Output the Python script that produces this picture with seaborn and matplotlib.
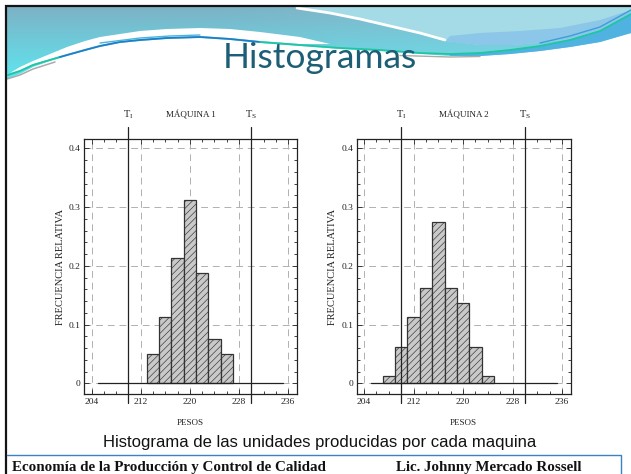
import matplotlib
matplotlib.use("Agg")
import matplotlib.pyplot as plt
from matplotlib.patches import Polygon
from matplotlib.ticker import FixedLocator, MultipleLocator
import numpy as np
import seaborn as sns

# frecuencias relativas (n = 80 unidades por maquina)
pesos_m1 = [214, 216, 218, 220, 222, 224, 226]
frec_m1 = [0.05, 0.1125, 0.2125, 0.3125, 0.1875, 0.075, 0.05]
pesos_m2 = [208, 210, 212, 214, 216, 218, 220, 222, 224]
frec_m2 = [0.0125, 0.0625, 0.1125, 0.1625, 0.275, 0.1625, 0.1375, 0.0625, 0.0125]

limites = [210, 230]
etiq_limites = [r'T$_\mathregular{I}$', r'T$_\mathregular{S}$']
maquinas = ['MÁQUINA 1', 'MÁQUINA 2']
x_ticks = [204, 212, 220, 228, 236]
y_ticks = [0, 0.1, 0.2, 0.3, 0.4]
y_labels = ['0', '0.1', '0.2', '0.3', '0.4']

sns.set_style("white")
plt.rcParams['font.family'] = ['Liberation Serif', 'DejaVu Serif']
plt.rcParams['hatch.linewidth'] = 0.45

W, H = 631, 474
fig = plt.figure(figsize=(W / 100, H / 100), dpi=100)

# ---- fondo de la diapositiva (coordenadas en pixeles) ----
bg = fig.add_axes([0, 0, 1, 1], zorder=0)
bg.set_xlim(0, W)
bg.set_ylim(H, 0)
bg.axis('off')


def poly(pts, **kw):
    p = Polygon(pts, closed=True, **kw)
    bg.add_patch(p)
    return p


lb = [(7, 79), (20, 74), (33, 67), (50, 61), (67, 56), (85, 51), (100, 47), (120, 43),
      (140, 41), (167, 39), (200, 38), (230, 40), (260, 43), (300, 46), (340, 49),
      (380, 51), (420, 54), (450, 56), (480, 56), (510, 54), (540, 51), (570, 47),
      (600, 42), (631, 33)]
cabecera = poly([(7, 7), (631, 7)] + lb[::-1], facecolor='none', edgecolor='none')

# degradado de la cabecera
ny, nx = 80, 320
t = np.linspace(0, 1, ny)[:, None]
xs = np.linspace(0, 1, nx)[None, :]
c0 = np.array(matplotlib.colors.to_rgb('#7db2c6'))
c1 = np.array(matplotlib.colors.to_rgb('#5ee6ef'))
img = (1 - t)[..., None] * c0 + t[..., None] * c1
img = img * np.ones((1, nx, 1))
wr = np.clip((xs - 0.35) / 0.5, 0, 1)[..., None] * 0.35
img = img * (1 - wr) + wr * np.array(matplotlib.colors.to_rgb('#8fd3e2'))
im = bg.imshow(img, extent=(7, 631, 80, 7), aspect='auto', zorder=1, interpolation='bilinear')
im.set_clip_path(cabecera)

# zona superior derecha (cian claro) y cuenco azul
poly([(297, 7), (631, 7), (631, 16), (600, 30), (570, 39), (540, 43), (510, 45), (480, 45),
      (445, 41), (420, 34), (390, 26), (360, 19), (330, 13)],
     facecolor='#a4dbe6', edgecolor='none', zorder=2)
poly([(445, 41), (480, 45), (510, 45), (540, 43), (570, 39), (600, 30), (631, 16),
      (631, 10), (600, 20), (560, 28), (520, 31), (480, 33), (450, 36)],
     facecolor='#8cc7e9', edgecolor='none', zorder=2)
# banda azul bajo la linea derecha
tl = [(450, 54), (480, 53), (510, 50), (540, 46), (570, 40), (600, 31), (631, 14)]
poly(tl + [(631, 33), (600, 42), (570, 47), (540, 51), (510, 54), (480, 56), (450, 56)],
     facecolor='#4fb2e0', edgecolor='none', zorder=2)
# cuna blanca
poly([(10, 73), (20, 67), (33, 61), (50, 54), (67, 47), (85, 41), (100, 37), (120, 34),
      (140, 31), (167, 29), (200, 28), (230, 29), (260, 32), (300, 37), (330, 44),
      (300, 44), (260, 41), (230, 38), (200, 36), (167, 37), (140, 39), (120, 41),
      (100, 45), (85, 49), (67, 54), (50, 59), (33, 64), (20, 70)],
     facecolor='white', edgecolor='none', zorder=2)
# franja blanca
bg.plot([297, 330, 360, 390, 420, 445], [8, 13, 19, 26, 33, 40], color='white', lw=2, zorder=3)
# lineas finas
bg.plot([7, 20, 33, 55], [79, 75, 69, 62], color='#aaaaaa', lw=1.1, zorder=3)
bg.plot([400, 450, 480], [55.5, 57, 56.5], color='#aaaaaa', lw=1.0, zorder=3)
bg.plot([8, 20, 33, 60], [75, 71, 65, 57], color='#1ec6a2', lw=1.3, zorder=4)
bg.plot([60, 85, 100, 120, 140, 167, 200, 230, 260], [57, 50, 46, 42, 40, 38, 37, 39, 42],
        color='#1e7fc8', lw=1.3, zorder=4)
bg.plot([100, 140, 170, 200], [43, 38, 36, 35], color='#4ab4dc', lw=1.0, zorder=4)
bg.plot([260, 300, 340, 380, 420, 450, 480, 510, 540, 570, 600, 631],
        [42, 45, 48, 50, 53, 54, 53, 50, 46, 40, 31, 14], color='#1ec6a2', lw=1.3, zorder=4)
bg.plot([540, 570, 600, 631], [43, 36, 27, 10], color='#3a9ed8', lw=1.0, zorder=4)

# bordes de la diapositiva
bg.plot([6, 6, 631], [474, 6, 6], color='#141414', lw=1.6, zorder=5, solid_joinstyle='miter')
bg.plot([7, 621, 621], [455, 455, 474], color='#3c83c6', lw=1.0, zorder=5)

bg.text(320, 68, 'Histogramas', family='Lato', fontsize=25.5, color='#1d5e77',
        ha='center', va='baseline', zorder=6)
bg.text(320, 442, 'Histograma de las unidades producidas por cada maquina',
        family='Liberation Sans', fontsize=12, color='#111111', ha='center', va='center')
bg.text(12, 467, 'Economía de la Producción y Control de Calidad', family='Liberation Serif',
        fontsize=10.8, fontweight='bold', color='#111111', ha='left', va='center')
bg.text(582, 467, 'Lic. Johnny Mercado Rossell', family='Liberation Serif',
        fontsize=10.8, fontweight='bold', color='#111111', ha='right', va='center')

# ---- histogramas ----
posiciones = [[0.1336, 0.1681, 0.3366, 0.5380], [0.5653, 0.1681, 0.3391, 0.5380]]
datos = [(pesos_m1, frec_m1), (pesos_m2, frec_m2)]

for pos, (pesos, frec), titulo in zip(posiciones, datos, maquinas):
    ax = fig.add_axes(pos, zorder=2)
    ax.set_facecolor('white')
    sns.histplot(x=pesos, weights=frec, binwidth=2, binrange=(min(pesos) - 1, max(pesos) + 1),
                 ax=ax, color='#c9c9c9', edgecolor='#333333', linewidth=0.9, alpha=1,
                 hatch='/////', zorder=3)
    ax.set_xlim(202.8, 237.4)
    ax.set_ylim(-0.0187, 0.4153)
    ax.xaxis.set_major_locator(FixedLocator(x_ticks))
    ax.xaxis.set_minor_locator(MultipleLocator(2))
    ax.yaxis.set_major_locator(FixedLocator(y_ticks))
    ax.yaxis.set_minor_locator(MultipleLocator(0.02))
    ax.set_yticklabels(y_labels)
    ax.grid(True, which='major', ls=(0, (7, 5)), color='#b0b0b0', lw=0.7)
    ax.set_axisbelow(True)
    ax.tick_params(which='both', direction='in', top=True, right=True, bottom=True, left=True,
                   width=0.6, color='#222222', labelsize=6.8, pad=2.5, labelcolor='#222222')
    ax.tick_params(which='major', length=3.5)
    ax.tick_params(which='minor', length=2)
    for s in ax.spines.values():
        s.set_color('#222222')
        s.set_linewidth(0.9)
        s.set_visible(True)
    ax.axhline(0, xmin=0.065, xmax=0.935, color='#222222', lw=0.9, zorder=4)
    for lim, etq in zip(limites, etiq_limites):
        ax.axvline(lim, ymin=-0.034, ymax=1.049, color='#222222', lw=0.9, clip_on=False, zorder=5)
        ax.text(lim, 1.095, etq, transform=ax.get_xaxis_transform(), ha='center', va='center',
                fontsize=7.5, color='#222222')
    ax.text(0.5, 1.095, titulo, transform=ax.transAxes, ha='center', va='center',
            fontsize=6.5, color='#222222')
    ax.set_xlabel('PESOS', fontsize=6.5, color='#222222')
    ax.set_ylabel('FRECUENCIA RELATIVA', fontsize=7.5, color='#222222')
    ax.xaxis.set_label_coords(0.5, -0.097)
    ax.yaxis.set_label_coords(-0.09, 0.5)

fig.savefig('out.png', dpi=100, facecolor='white')
